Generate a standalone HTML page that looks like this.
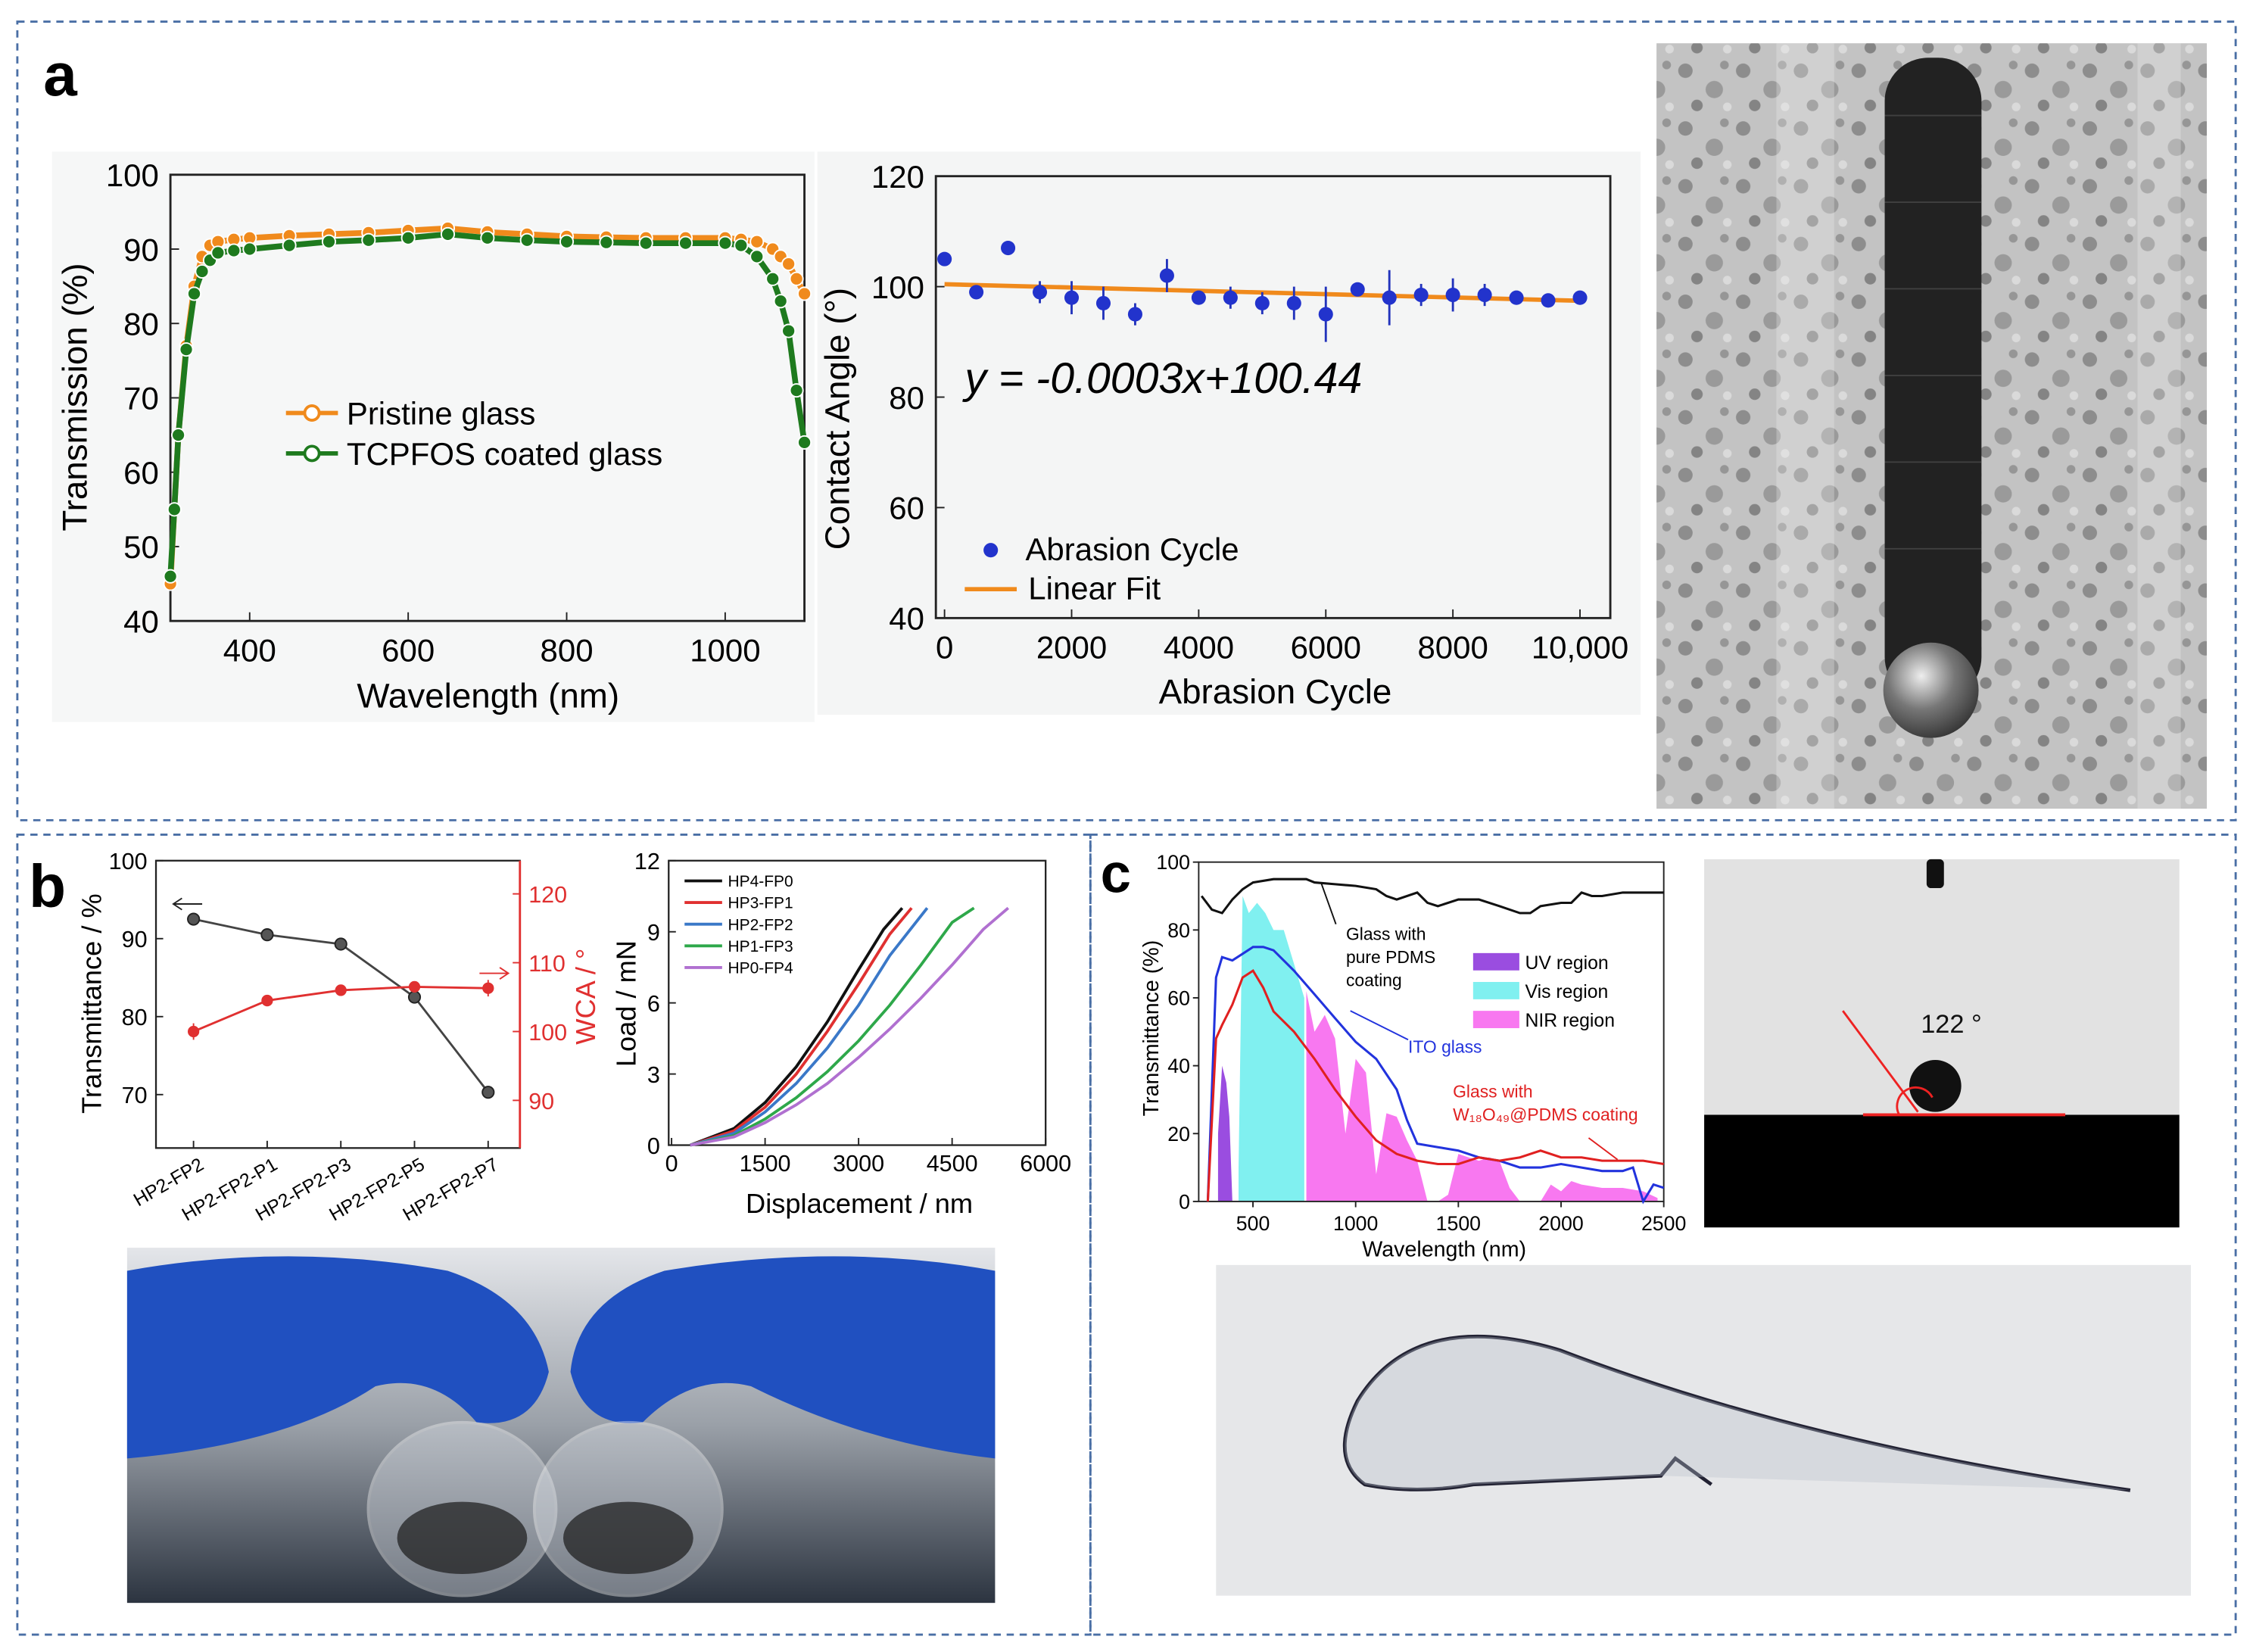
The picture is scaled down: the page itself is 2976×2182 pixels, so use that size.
<!DOCTYPE html>
<html><head><meta charset="utf-8"><style>
html,body{margin:0;padding:0;background:#fff}
svg{display:block}
text{font-family:"Liberation Sans",Arial,sans-serif}
</style></head><body>
<svg id="fig" width="2976" height="2182" viewBox="0 0 1560 1144" preserveAspectRatio="none" xmlns="http://www.w3.org/2000/svg">
<defs>
<linearGradient id="gloveG" x1="0" y1="0" x2="0" y2="1"><stop offset="0" stop-color="#e4e6ea"/><stop offset="0.5" stop-color="#9aa0a8"/><stop offset="1" stop-color="#2c3440"/></linearGradient>
<radialGradient id="dropG" cx="0.4" cy="0.35" r="0.7"><stop offset="0" stop-color="#eee"/><stop offset="0.5" stop-color="#777"/><stop offset="1" stop-color="#333"/></radialGradient>
<pattern id="noise" width="40" height="40" patternUnits="userSpaceOnUse"><rect width="40" height="40" fill="#b8b8b8"/><circle cx="7" cy="9" r="5" fill="#6a6a6a"/><circle cx="27" cy="22" r="6" fill="#7d7d7d"/><circle cx="15" cy="33" r="4" fill="#5e5e5e"/><circle cx="34" cy="5" r="3" fill="#777"/><circle cx="36" cy="34" r="3" fill="#d8d8d8"/></pattern>
</defs>
<g fill="none" stroke="#4a6fa5" stroke-width="1.5" stroke-dasharray="5,4">
<rect x="12" y="15" width="1536" height="553"/>
<rect x="12" y="578" width="743" height="554"/>
<rect x="755" y="578" width="793" height="554"/>
</g>
<text x="30" y="66" font-size="42" font-weight="bold">a</text>
<text x="20" y="628" font-size="42" font-weight="bold">b</text>
<text x="762" y="618" font-size="38" font-weight="bold">c</text>

<g id="a1"></g>
<g id="a2"></g>

<g>
<rect x="1147" y="30" width="381" height="530" fill="url(#noise)"/>
<rect x="1147" y="30" width="381" height="530" fill="#ddd" opacity="0.3"/>
<rect x="1230" y="30" width="40" height="530" fill="#eee" opacity="0.3"/>
<rect x="1480" y="30" width="30" height="530" fill="#eee" opacity="0.3"/>
<rect x="1305" y="40" width="67" height="445" rx="30" fill="#222"/>
<g stroke="#555" stroke-width="1" opacity="0.6">
<line x1="1305" y1="80" x2="1372" y2="80"/><line x1="1305" y1="140" x2="1372" y2="140"/><line x1="1305" y1="200" x2="1372" y2="200"/><line x1="1305" y1="260" x2="1372" y2="260"/><line x1="1305" y1="320" x2="1372" y2="320"/><line x1="1305" y1="380" x2="1372" y2="380"/>
</g>
<circle cx="1337" cy="478" r="33" fill="url(#dropG)"/>
</g>

<g id="b1"></g>
<g id="b2"></g>

<g>
<rect x="88" y="864" width="601" height="246" fill="url(#gloveG)"/>
<path d="M88 880 Q200 860 310 880 Q370 900 380 950 Q370 990 330 985 Q300 950 260 960 Q200 1000 88 1010Z" fill="#2050c0"/>
<path d="M689 880 Q580 860 460 880 Q400 900 395 950 Q405 990 445 985 Q480 950 520 960 Q600 1000 689 1010Z" fill="#2050c0"/>
<ellipse cx="320" cy="1045" rx="65" ry="60" fill="#e0e4ea" opacity="0.4" stroke="#f5f5f5" stroke-width="2"/>
<ellipse cx="435" cy="1045" rx="65" ry="60" fill="#e0e4ea" opacity="0.4" stroke="#f5f5f5" stroke-width="2"/>
<ellipse cx="320" cy="1065" rx="45" ry="25" fill="#1a1a1a" opacity="0.7"/>
<ellipse cx="435" cy="1065" rx="45" ry="25" fill="#1a1a1a" opacity="0.7"/>
</g>

<g id="c1"></g>

<g>
<rect x="1180" y="595" width="329" height="177" fill="#e2e2e2"/>
<rect x="1180" y="772" width="329" height="78" fill="#000"/>
<rect x="1334" y="595" width="12" height="20" rx="3" fill="#111"/>
<circle cx="1340" cy="752" r="18" fill="#111"/>
<line x1="1290" y1="772" x2="1430" y2="772" stroke="#e22" stroke-width="2"/>
<line x1="1276" y1="700" x2="1328" y2="770" stroke="#e22" stroke-width="1.5"/>
<path d="M1315 772 A12 12 0 0 1 1338 760" fill="none" stroke="#e22" stroke-width="1.5"/>
<text x="1330" y="715" font-size="18" fill="#111">122 °</text>
</g>

<g>
<rect x="842" y="876" width="675" height="229" fill="#e6e7e9"/>
<path d="M1475 1032 Q1250 1000 1080 935 Q980 905 940 970 Q920 1010 945 1028 Q980 1035 1020 1028 L1150 1022 L1160 1010 L1185 1028" fill="none" stroke="#223" stroke-width="2.5"/>
<path d="M1475 1032 Q1250 1000 1080 935 Q980 905 940 970 Q920 1010 945 1028 Q980 1035 1020 1028 L1150 1022 Z" fill="#b7bfca" opacity="0.35"/>
</g>

<script>
var NS='http://www.w3.org/2000/svg';
function el(parent,tag,attrs,txt){var e=document.createElementNS(NS,tag);for(var k in attrs)e.setAttribute(k,attrs[k]);if(txt!==undefined)e.textContent=txt;parent.appendChild(e);return e;}
function lin(d0,d1,r0,r1){return function(v){return r0+(v-d0)/(d1-d0)*(r1-r0);};}

var a1Wave=[300,305,310,320,330,340,350,360,380,400,450,500,550,600,650,700,750,800,850,900,950,1000,1020,1040,1060,1070,1080,1090,1100];
var a1Pristine=[45,55,65,77,85,89,90.5,91,91.3,91.5,91.8,92,92.2,92.5,92.8,92.3,92,91.7,91.6,91.5,91.5,91.5,91.3,91,90,89,88,86,84];
var a1Coated=[46,55,65,76.5,84,87,88.5,89.5,89.8,90,90.5,91,91.2,91.5,92,91.5,91.2,91,90.9,90.8,90.8,90.8,90.5,89,86,83,79,71,64];
var a1XTicks=[400,600,800,1000];
var a1YTicks=[40,50,60,70,80,90,100];
var a2Cycle=[0,500,1000,1500,2000,2500,3000,3500,4000,4500,5000,5500,6000,6500,7000,7500,8000,8500,9000,9500,10000];
var a2Angle=[105,99,107,99,98,97,95,102,98,98,97,97,95,99.5,98,98.5,98.5,98.5,98,97.5,98];
var a2Err=[1,1,1,2,3,3,2,3,1,2,2,3,5,1,5,2,3,2,1,1,1];
var a2XTicks=[0,2000,4000,6000,8000,10000];
var a2XLabels=['0','2000','4000','6000','8000','10,000'];
var a2YTicks=[40,60,80,100,120];
var b1Cats=['HP2-FP2','HP2-FP2-P1','HP2-FP2-P3','HP2-FP2-P5','HP2-FP2-P7'];
var b1Trans=[92.5,90.5,89.3,82.5,70.3];
var b1WCA=[100,104.5,106,106.5,106.3];
var b1WCAErr=[1.2,0.8,0.8,0.8,1.2];
var b1LTicks=[70,80,90,100];
var b1RTicks=[90,100,110,120];
var b2Names=['HP4-FP0','HP3-FP1','HP2-FP2','HP1-FP3','HP0-FP4'];
var b2Colors=['#111','#e03030','#3a78c8','#2ea84a','#b070d0'];
var b2Disp=[[300,1000,1500,2000,2500,3000,3400,3700],[300,1000,1500,2000,2500,3000,3500,3850],[300,1000,1500,2000,2500,3000,3500,4100],[300,1000,1500,2000,2500,3000,3500,4000,4500,4850],[300,1000,1500,2000,2500,3000,3500,4000,4500,5000,5400]];
var b2Load=[[0,0.7,1.8,3.3,5.2,7.4,9.1,10],[0,0.6,1.6,3,4.8,6.8,8.9,10],[0,0.5,1.4,2.6,4.1,5.9,8,10],[0,0.4,1.1,2,3.1,4.4,5.9,7.6,9.4,10],[0,0.35,0.95,1.7,2.6,3.7,4.9,6.2,7.6,9.1,10]];
var b2XTicks=[0,1500,3000,4500,6000];
var b2YTicks=[0,3,6,9,12];
var cBlackX=[250,300,350,400,450,500,600,700,760,800,900,1000,1100,1150,1200,1300,1350,1400,1500,1600,1700,1800,1850,1900,2000,2050,2100,2150,2200,2300,2400,2500];
var cBlackY=[90,86,85,89,92,94,95,95,95,94,93.5,93,92,90,89,91,88,87,89,89,87,85,85,87,88,88,91,90,90,91,91,91];
var cBlueX=[280,320,350,400,450,500,550,600,700,800,900,1000,1100,1200,1250,1300,1400,1500,1600,1700,1800,1900,2000,2100,2200,2300,2350,2400,2450,2500];
var cBlueY=[0,66,72,71,73,75,75,74,68,61,54,47,42,33,24,17,16,15,13,12,10,10,11,10,9,9,10,0,5,4];
var cRedX=[280,320,350,400,450,500,550,600,700,800,900,1000,1100,1200,1300,1400,1500,1600,1700,1800,1900,2000,2100,2200,2300,2400,2500];
var cRedY=[0,48,52,58,66,68,63,56,50,42,33,25,18,14,12,11,11,13,12,13,15,13,13,12,12,12,11];
var cUVX=[330,350,370,385,400];
var cUVY=[20,40,35,25,0];
var cVisX=[430,450,480,520,560,600,650,700,750];
var cVisY=[10,90,85,88,85,80,80,70,60];
var cNIRX=[760,800,850,900,950,1000,1050,1100,1150,1200,1250,1300,1350,1400,1450,1500,1550,1600,1650,1700,1750,1800,1850,1900,1950,2000,2050,2100,2200,2300,2400,2470];
var cNIRY=[62,50,55,48,20,42,38,8,26,25,18,12,0,0,2,14,13,12,13,12,4,0,0,0,5,3,6,5,4,4,3,1];
var cXTicks=[500,1000,1500,2000,2500];
var cYTicks=[0,20,40,60,80,100];

function pts(X,Y,sx,sy){return X.map(function(v,i){return sx(v).toFixed(1)+','+sy(Y[i]).toFixed(1);}).join(' ');}

(function(){
var g=document.getElementById('a1');
el(g,'rect',{x:36,y:105,width:528,height:395,fill:'#f6f7f7'});
var x0=118,x1=557,y0=430,y1=121;
var sx=lin(300,1100,x0,x1), sy=lin(40,100,y0,y1);
var fr=el(g,'rect',{x:x0,y:y1,width:x1-x0,height:y0-y1,fill:'none',stroke:'#222','stroke-width':1.5});

a1XTicks.forEach(function(t){el(g,'line',{x1:sx(t),x2:sx(t),y1:y0,y2:y0-6,stroke:'#222'});
var tx=el(g,'text',{x:sx(t),y:y0+28,'font-size':22,'text-anchor':'middle'},t);});
a1YTicks.forEach(function(t){el(g,'line',{x1:x0,x2:x0+6,y1:sy(t),y2:sy(t),stroke:'#222'});
var tx=el(g,'text',{x:x0-8,y:sy(t)+8,'font-size':22,'text-anchor':'end'},t);});
var xt=el(g,'text',{x:338,y:490,'font-size':24,'text-anchor':'middle'},'Wavelength (nm)');
var yt=el(g,'text',{x:60,y:275,'font-size':24,'text-anchor':'middle',transform:'rotate(-90 60 275)'},'Transmission (%)');
[[a1Pristine,'#f08a1c','series-pristine'],[a1Coated,'#1e7a1e','series-coated']].forEach(function(s){
var pl=el(g,'polyline',{points:pts(a1Wave,s[0],sx,sy),fill:'none',stroke:s[1],'stroke-width':4});

a1Wave.forEach(function(w,i){var c=el(g,'circle',{cx:sx(w),cy:sy(s[0][i]),r:4.5,fill:s[1],stroke:'#fff','stroke-width':1});});
});
[['Pristine glass','#f08a1c',286],['TCPFOS coated glass','#1e7a1e',314]].forEach(function(l){
var lg=el(g,'g',{});
el(lg,'line',{x1:198,x2:234,y1:l[2],y2:l[2],stroke:l[1],'stroke-width':3});
el(lg,'circle',{cx:216,cy:l[2],r:5,fill:'#fff',stroke:l[1],'stroke-width':2});
el(lg,'text',{x:240,y:l[2]+8,'font-size':22},l[0]);});
})();

(function(){
var g=document.getElementById('a2');
el(g,'rect',{x:566,y:105,width:570,height:390,fill:'#f4f5f5'});
var x0=648,x1=1115,y0=428,y1=122;
var sx=lin(0,10000,654,1094), sy=lin(40,120,y0,y1);
var fr=el(g,'rect',{x:x0,y:y1,width:x1-x0,height:y0-y1,fill:'none',stroke:'#222','stroke-width':1.5});

a2XTicks.forEach(function(t,i){el(g,'line',{x1:sx(t),x2:sx(t),y1:y0,y2:y0-6,stroke:'#222'});
var tx=el(g,'text',{x:sx(t),y:y0+28,'font-size':22,'text-anchor':'middle'},a2XLabels[i]);});
a2YTicks.forEach(function(t){el(g,'line',{x1:x0,x2:x0+6,y1:sy(t),y2:sy(t),stroke:'#222'});
var tx=el(g,'text',{x:x0-8,y:sy(t)+8,'font-size':22,'text-anchor':'end'},t);});
var xt=el(g,'text',{x:883,y:487,'font-size':24,'text-anchor':'middle'},'Abrasion Cycle');
var yt=el(g,'text',{x:588,y:290,'font-size':24,'text-anchor':'middle',transform:'rotate(-90 588 290)'},'Contact Angle (°)');
var fl=el(g,'line',{x1:sx(0),y1:sy(100.44),x2:sx(10000),y2:sy(100.44-0.0003*10000),stroke:'#f08a1c','stroke-width':3});

a2Cycle.forEach(function(c,i){
var e=el(g,'line',{x1:sx(c),x2:sx(c),y1:sy(a2Angle[i]-a2Err[i]),y2:sy(a2Angle[i]+a2Err[i]),stroke:'#2233bb','stroke-width':1.5});
var p=el(g,'circle',{cx:sx(c),cy:sy(a2Angle[i]),r:5,fill:'#2233cc'});});
var eq=el(g,'text',{x:668,y:272,'font-size':30,'font-style':'italic'},'y = -0.0003x+100.44');
var l1=el(g,'g',{});
el(l1,'circle',{cx:686,cy:381,r:5,fill:'#2233cc'});el(l1,'text',{x:710,y:388,'font-size':22},'Abrasion Cycle');
var l2=el(g,'g',{});
el(l2,'line',{x1:668,x2:704,y1:408,y2:408,stroke:'#f08a1c','stroke-width':3});el(l2,'text',{x:712,y:415,'font-size':22},'Linear Fit');
})();

(function(){
var g=document.getElementById('b1');
var x0=108,x1=360,y0=795,y1=596;
var sy=lin(70,100,758,596), sr=lin(90,120,762,619);
var sx=function(i){return 134+i*51;};
var fr=el(g,'rect',{x:x0,y:y1,width:x1-x0,height:y0-y1,fill:'none',stroke:'#222','stroke-width':1.2});

b1LTicks.forEach(function(t){el(g,'line',{x1:x0,x2:x0+5,y1:sy(t),y2:sy(t),stroke:'#222'});
var tx=el(g,'text',{x:x0-6,y:sy(t)+6,'font-size':16,'text-anchor':'end'},t);});
b1RTicks.forEach(function(t){el(g,'line',{x1:x1,x2:x1-5,y1:sr(t),y2:sr(t),stroke:'#e03030'});
var tx=el(g,'text',{x:x1+6,y:sr(t)+6,'font-size':16,fill:'#e03030'},t);});
el(g,'line',{x1:x1,x2:x1,y1:y1,y2:y0,stroke:'#e03030','stroke-width':1.5});
b1Cats.forEach(function(c,i){el(g,'line',{x1:sx(i),x2:sx(i),y1:y0,y2:y0-5,stroke:'#222'});
var tx=el(g,'text',{x:sx(i)+8,y:y0+14,'font-size':13,'text-anchor':'end',transform:'rotate(-30 '+(sx(i)+8)+' '+(y0+14)+')'},c);});
var yl=el(g,'text',{x:70,y:695,'font-size':19,'text-anchor':'middle',transform:'rotate(-90 70 695)'},'Transmittance / %');
var yr=el(g,'text',{x:412,y:690,'font-size':19,'text-anchor':'middle',fill:'#e03030',transform:'rotate(-90 412 690)'},'WCA / °');
var bl=el(g,'polyline',{points:b1Trans.map(function(v,i){return sx(i)+','+sy(v);}).join(' '),fill:'none',stroke:'#444','stroke-width':1.5});
var rl=el(g,'polyline',{points:b1WCA.map(function(v,i){return sx(i)+','+sr(v);}).join(' '),fill:'none',stroke:'#e03030','stroke-width':1.5});
b1Trans.forEach(function(v,i){var p=el(g,'circle',{cx:sx(i),cy:sy(v),r:4,fill:'#555',stroke:'#222'});});
b1WCA.forEach(function(v,i){el(g,'line',{x1:sx(i),x2:sx(i),y1:sr(v-b1WCAErr[i]),y2:sr(v+b1WCAErr[i]),stroke:'#e03030'});
var p=el(g,'circle',{cx:sx(i),cy:sr(v),r:4,fill:'#e03030'});});
el(g,'path',{d:'M140 626 L120 626 M126 622 L120 626 L126 630',stroke:'#222',fill:'none'});
el(g,'path',{d:'M332 674 L352 674 M346 670 L352 674 L346 678',stroke:'#e03030',fill:'none'});
})();

(function(){
var g=document.getElementById('b2');
var x0=463,x1=724,y0=793,y1=596;
var sx=lin(0,6000,465,724), sy=lin(0,12,y0,y1);
var fr=el(g,'rect',{x:x0,y:y1,width:x1-x0,height:y0-y1,fill:'none',stroke:'#222','stroke-width':1.2});

b2XTicks.forEach(function(t){el(g,'line',{x1:sx(t),x2:sx(t),y1:y0,y2:y0-5,stroke:'#222'});
var tx=el(g,'text',{x:sx(t),y:y0+18,'font-size':16,'text-anchor':'middle'},t);});
b2YTicks.forEach(function(t){el(g,'line',{x1:x0,x2:x0+5,y1:sy(t),y2:sy(t),stroke:'#222'});
var tx=el(g,'text',{x:x0-6,y:sy(t)+6,'font-size':16,'text-anchor':'end'},t);});
var xt=el(g,'text',{x:595,y:840,'font-size':19,'text-anchor':'middle'},'Displacement / nm');
var yt=el(g,'text',{x:440,y:695,'font-size':19,'text-anchor':'middle',transform:'rotate(-90 440 695)'},'Load / mN');
b2Names.forEach(function(n,k){
var pl=el(g,'polyline',{points:pts(b2Disp[k],b2Load[k],sx,sy),fill:'none',stroke:b2Colors[k],'stroke-width':2});
var lg=el(g,'g',{});
var y=610+k*15;el(lg,'line',{x1:474,x2:500,y1:y,y2:y,stroke:b2Colors[k],'stroke-width':2});el(lg,'text',{x:504,y:y+4,'font-size':11},n);});
})();

(function(){
var g=document.getElementById('c1');
var x0=830,x1=1152,y0=832,y1=597;
var sx=lin(250,2500,832,1152), sy=lin(0,100,y0,y1);
function area(X,Y,col,name){var p='M'+sx(X[0])+','+sy(0)+' L'+pts(X,Y,sx,sy).split(' ').join(' L')+' L'+sx(X[X.length-1])+','+sy(0)+'Z';var a=el(g,'path',{d:p,fill:col});}
area(cUVX,cUVY,'#9a4de0','uv-region-area');area(cVisX,cVisY,'#80f0f0','vis-region-area');area(cNIRX,cNIRY,'#f878f0','nir-region-area');
var fr=el(g,'rect',{x:x0,y:y1,width:x1-x0,height:y0-y1,fill:'none',stroke:'#222','stroke-width':1});

cXTicks.forEach(function(t){el(g,'line',{x1:sx(t),x2:sx(t),y1:y0,y2:y0+4,stroke:'#222'});
var tx=el(g,'text',{x:sx(t),y:y0+20,'font-size':14,'text-anchor':'middle'},t);});
cYTicks.forEach(function(t){el(g,'line',{x1:x0,x2:x0-4,y1:sy(t),y2:sy(t),stroke:'#222'});
var tx=el(g,'text',{x:x0-6,y:sy(t)+5,'font-size':14,'text-anchor':'end'},t);});
var xt=el(g,'text',{x:1000,y:870,'font-size':15,'text-anchor':'middle'},'Wavelength (nm)');
var yt=el(g,'text',{x:802,y:712,'font-size':15,'text-anchor':'middle',transform:'rotate(-90 802 712)'},'Transmittance (%)');
[[cBlackX,cBlackY,'#111','pdms-line'],[cBlueX,cBlueY,'#2233dd','ito-line'],[cRedX,cRedY,'#e02020','w18o49-line']].forEach(function(s){
var pl=el(g,'polyline',{points:pts(s[0],s[1],sx,sy),fill:'none',stroke:s[2],'stroke-width':1.6});});
el(g,'path',{d:'M915 612 L925 640',stroke:'#111',fill:'none'});
el(g,'text',{x:932,y:651,'font-size':12},'Glass with');el(g,'text',{x:932,y:667,'font-size':12},'pure PDMS');el(g,'text',{x:932,y:683,'font-size':12},'coating');
el(g,'path',{d:'M935 700 L975 720',stroke:'#2233dd',fill:'none'});
el(g,'text',{x:975,y:729,'font-size':12,fill:'#2233dd'},'ITO glass');
el(g,'text',{x:1006,y:760,'font-size':12,fill:'#e02020'},'Glass with');el(g,'text',{x:1006,y:776,'font-size':12,fill:'#e02020'},'W₁₈O₄₉@PDMS coating');
el(g,'path',{d:'M1100 788 L1120 803',stroke:'#e02020',fill:'none'});
[['UV region','#9a4de0',666],['Vis region','#80f0f0',686],['NIR region','#f878f0',706]].forEach(function(l){
var lg=el(g,'g',{});
el(lg,'rect',{x:1020,y:l[2]-6,width:32,height:12,fill:l[1]});el(lg,'text',{x:1056,y:l[2]+5,'font-size':13},l[0]);});
})();
</script>
</svg>
</body></html>
